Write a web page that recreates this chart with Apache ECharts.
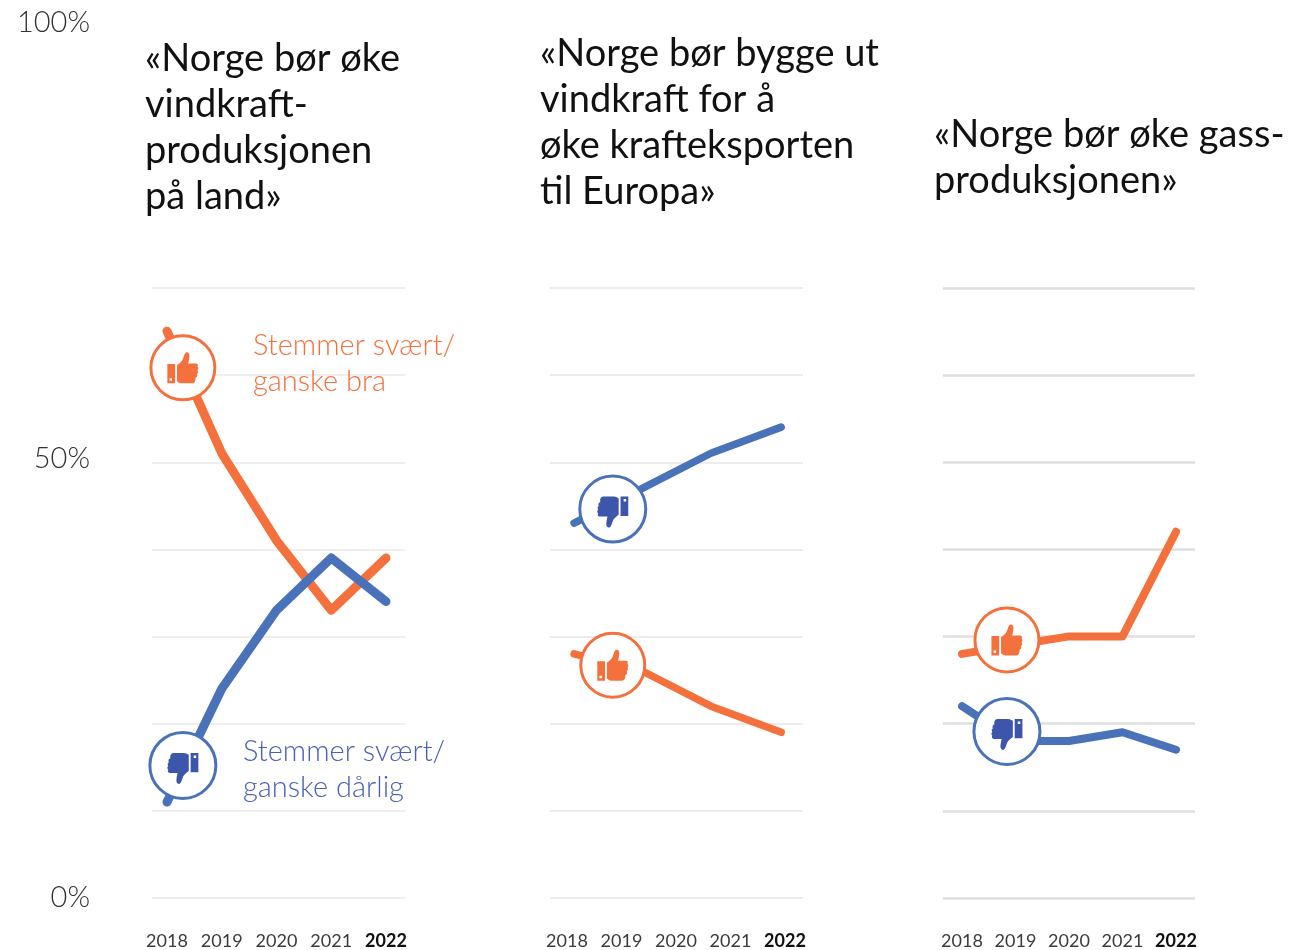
<!DOCTYPE html>
<html><head><meta charset="utf-8">
<style>html,body{margin:0;padding:0;background:#fff}#c{width:1312px;height:950px}</style>
<script src="https://cdn.jsdelivr.net/npm/echarts@6/dist/echarts.min.js"></script>
</head><body><div id="c"></div>
<script>
const years = [2018, 2019, 2020, 2021, 2022];
const yTicks = [0, 50, 100];

const titles = [
  '«Norge bør øke\nvindkraft-\nproduksjonen\npå land»',
  '«Norge bør bygge ut\nvindkraft for å\nøke krafteksporten\ntil Europa»',
  '«Norge bør øke gass-\nproduksjonen»'
];

const p1Years = [2018, 2019, 2020, 2021, 2022];
const p1Good = [65, 51, 41, 33, 39];
const p1Bad = [11, 24, 33, 39, 34];

const p2Years = [2018.13, 2019.39, 2020.64, 2021.93];
const p2Good = [28, 26, 22, 19];
const p2Bad = [43, 47, 51, 54];

const p3Years = [2018, 2019, 2020, 2021, 2022];
const p3Good = [28, 29, 30, 30, 42];
const p3Bad = [22, 18, 18, 19, 17];

const goodBadge = [[2018.29, 60.8], [2018.84, 26.7], [2018.84, 29.6]];
const badBadge = [[2018.29, 15.2], [2018.84, 44.6], [2018.84, 19.1]];

const ORANGE = '#f4703c', BLUE = '#4a72b9', ICONBLUE = '#3d55aa';
const THUMB = 'path://M0 38H25V100H0ZM7 84V92H15V84ZM31 42C40 36 47 30 50 22C53 14 54 6 60 1C66 -1 71 3 71 12C71 20 69 28 67 36H92C99 36 100 42 97 46C101 49 101 55 97 58C100 62 100 67 95 70C98 74 96 82 90 82V82C92 88 90 100 80 100H46C40 100 35 96 31 94Z';

const panels = [
  {gridL: 152, gridW: 253, left: 167, right: 386, xs: p1Years, good: p1Good, bad: p1Bad, lw: 9, gw: 1.5, gc: '#e9e9e9', titleL: 145, titleT: 36},
  {gridL: 550, gridW: 253, left: 567, right: 785, xs: p2Years, good: p2Good, bad: p2Bad, lw: 7.5, gw: 1.5, gc: '#e6e6e6', titleL: 540, titleT: 31},
  {gridL: 943, gridW: 252, left: 962, right: 1176, xs: p3Years, good: p3Good, bad: p3Bad, lw: 8, gw: 2.5, gc: '#dfdfdf', titleL: 934, titleT: 112}
];

const grid = [], xAxis = [], yAxis = [], series = [], title = [];
const FONT = 'Lato';

panels.forEach((p, i) => {
  // gridline grid: 0–70 %
  grid.push({left: p.gridL, width: p.gridW, top: 288, height: 610, outerBoundsMode: 'none'});
  xAxis.push({gridIndex: i * 2, type: 'value', min: 0, max: 1, show: false});
  yAxis.push({gridIndex: i * 2, type: 'value', min: 0, max: 70, interval: 10,
    axisLine: {show: false}, axisTick: {show: false}, axisLabel: {show: false},
    splitLine: {show: true, lineStyle: {color: p.gc, width: p.gw}}});
  // data grid: 0–100 %
  grid.push({left: p.left, width: p.right - p.left, top: 26, height: 872, outerBoundsMode: 'none'});
  xAxis.push({gridIndex: i * 2 + 1, type: 'value', min: years[0], max: years[4], interval: 1,
    axisLine: {show: false}, axisTick: {show: false}, splitLine: {show: false},
    axisLabel: {show: true, margin: 34, fontFamily: FONT, fontSize: 18, color: '#3c3c3c',
      showMinLabel: true, showMaxLabel: true,
      formatter: v => v === years[4] ? '{b|' + v + '}' : String(v),
      rich: {b: {fontFamily: FONT, fontSize: 18, fontWeight: 'bold', color: '#111'}}}});
  yAxis.push({gridIndex: i * 2 + 1, type: 'value', min: 0, max: 100, interval: 50,
    axisLine: {show: false}, axisTick: {show: false}, splitLine: {show: false},
    axisLabel: {show: i === 0, margin: 77, fontFamily: FONT, fontSize: 29, fontWeight: 300, color: '#333',
      formatter: v => v === yTicks[0] ? '{z|' + v + '%}' : '{u|' + v + '%}',
      rich: {
        z: {fontFamily: FONT, fontSize: 29, fontWeight: 300, color: '#333'},
        u: {fontFamily: FONT, fontSize: 29, fontWeight: 300, color: '#333', padding: [0, 0, 7, 0]}
      }}});
  const ax = {xAxisIndex: i * 2 + 1, yAxisIndex: i * 2 + 1};
  [[p.good, ORANGE, 'Stemmer svært/ganske bra'], [p.bad, BLUE, 'Stemmer svært/ganske dårlig']].forEach(([vals, col, name]) => {
    series.push({...ax, name, type: 'line', showSymbol: false, silent: true, z: 3, clip: false,
      data: vals.map((v, k) => [p.xs[k], v]),
      lineStyle: {color: col, width: p.lw, cap: 'round', join: 'round'}});
  });
  [[goodBadge[i], ORANGE, ORANGE, 0, 64, 0], [badBadge[i], BLUE, ICONBLUE, 180, 66, 3]].forEach(([pos, col, icon, rot, size, dy]) => {
    series.push({...ax, type: 'scatter', silent: true, z: 4, clip: false, symbol: 'circle', symbolSize: size,
      itemStyle: {color: '#fff', borderColor: col, borderWidth: 3, opacity: 1}, data: [pos]});
    series.push({...ax, type: 'scatter', silent: true, z: 5, clip: false, symbol: THUMB, symbolSize: 31, symbolRotate: rot, symbolOffset: [0, dy],
      itemStyle: {color: icon, opacity: 1}, data: [pos]});
  });
  title.push({text: titles[i], left: p.titleL, top: p.titleT, padding: 0,
    textStyle: {fontFamily: FONT, fontSize: 38, fontWeight: 400, lineHeight: 46, color: '#111'}});
});

title.push({text: 'Stemmer svært/\nganske bra', left: 253, top: 328, padding: 0,
  textStyle: {fontFamily: FONT, fontSize: 29, fontWeight: 300, lineHeight: 36, color: '#f4703c'}});
title.push({text: 'Stemmer svært/\nganske dårlig', left: 243, top: 734, padding: 0,
  textStyle: {fontFamily: FONT, fontSize: 29, fontWeight: 300, lineHeight: 36, color: '#4a60b8'}});

const chart = echarts.init(document.getElementById('c'), null, {renderer: 'canvas', width: 1312, height: 950});
chart.setOption({backgroundColor: '#fff', animation: false, title, grid, xAxis, yAxis, series});
</script></body></html>
